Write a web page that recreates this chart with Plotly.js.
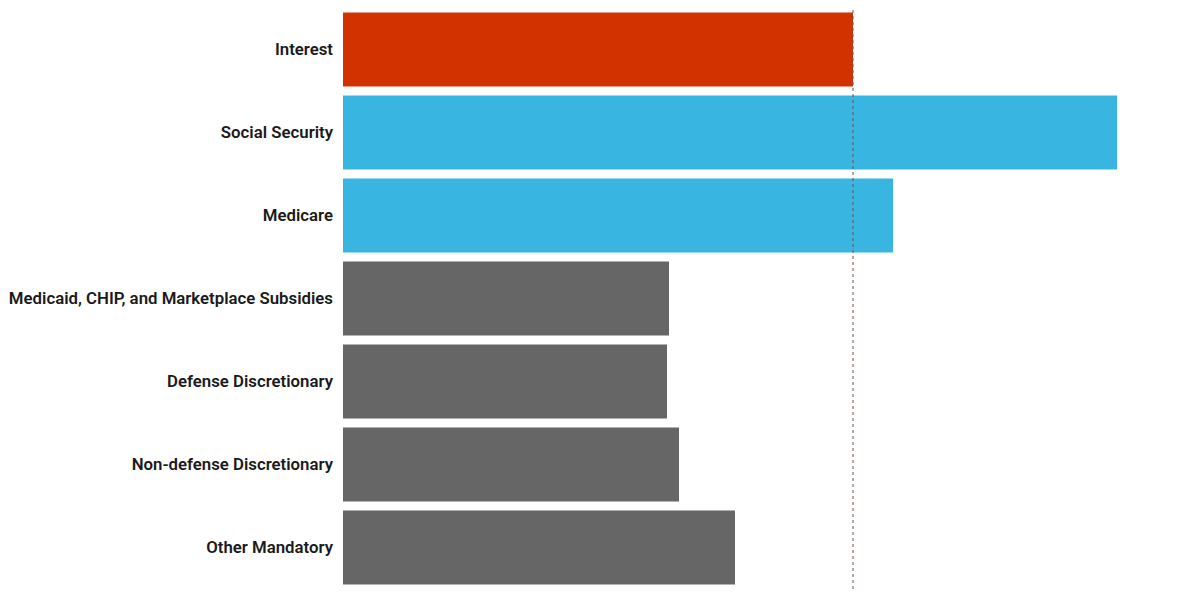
<!DOCTYPE html>
<html>
<head>
<meta charset="utf-8">
<script src="https://cdn.plot.ly/plotly-3.0.1.min.js"></script>
<style>html,body{margin:0;padding:0;background:#fff;}#chart{width:1197px;height:598px;}</style>
</head>
<body>
<div id="chart"></div>
<script>
const categories = ["Interest", "Social Security", "Medicare", "Medicaid, CHIP, and Marketplace Subsidies", "Defense Discretionary", "Non-defense Discretionary", "Other Mandatory"];
const values = [1020, 1548, 1100, 652, 648, 672, 784];
const barColors = ["#d13200", "#38b5e1", "#38b5e1", "#666666", "#666666", "#666666", "#666666"];
const referenceValue = values[0];

const trace = {
  type: "bar",
  orientation: "h",
  y: categories,
  x: values,
  marker: {color: barColors},
  hoverinfo: "x+y"
};

const layout = {
  width: 1197,
  height: 598,
  margin: {l: 343, r: 54, t: 8, b: 9},
  paper_bgcolor: "#ffffff",
  plot_bgcolor: "#ffffff",
  bargap: 0.11,
  showlegend: false,
  xaxis: {range: [0, 1600], showgrid: false, zeroline: false, showticklabels: false, showline: false, fixedrange: true},
  yaxis: {
    autorange: "reversed",
    showgrid: false, zeroline: false, showline: false,
    ticks: "", ticklabelstandoff: 9,
    tickfont: {family: "Roboto, 'Noto Sans', sans-serif", size: 16.8, color: "#1a1a1a", weight: 600}
  },
  shapes: [{
    type: "line", xref: "x", yref: "paper",
    x0: referenceValue, x1: referenceValue, y0: 0, y1: 1,
    line: {color: "#6e5048", width: 1, dash: "dot"}
  }]
};

Plotly.newPlot("chart", [trace], layout, {displayModeBar: false, staticPlot: true});
</script>
</body>
</html>
